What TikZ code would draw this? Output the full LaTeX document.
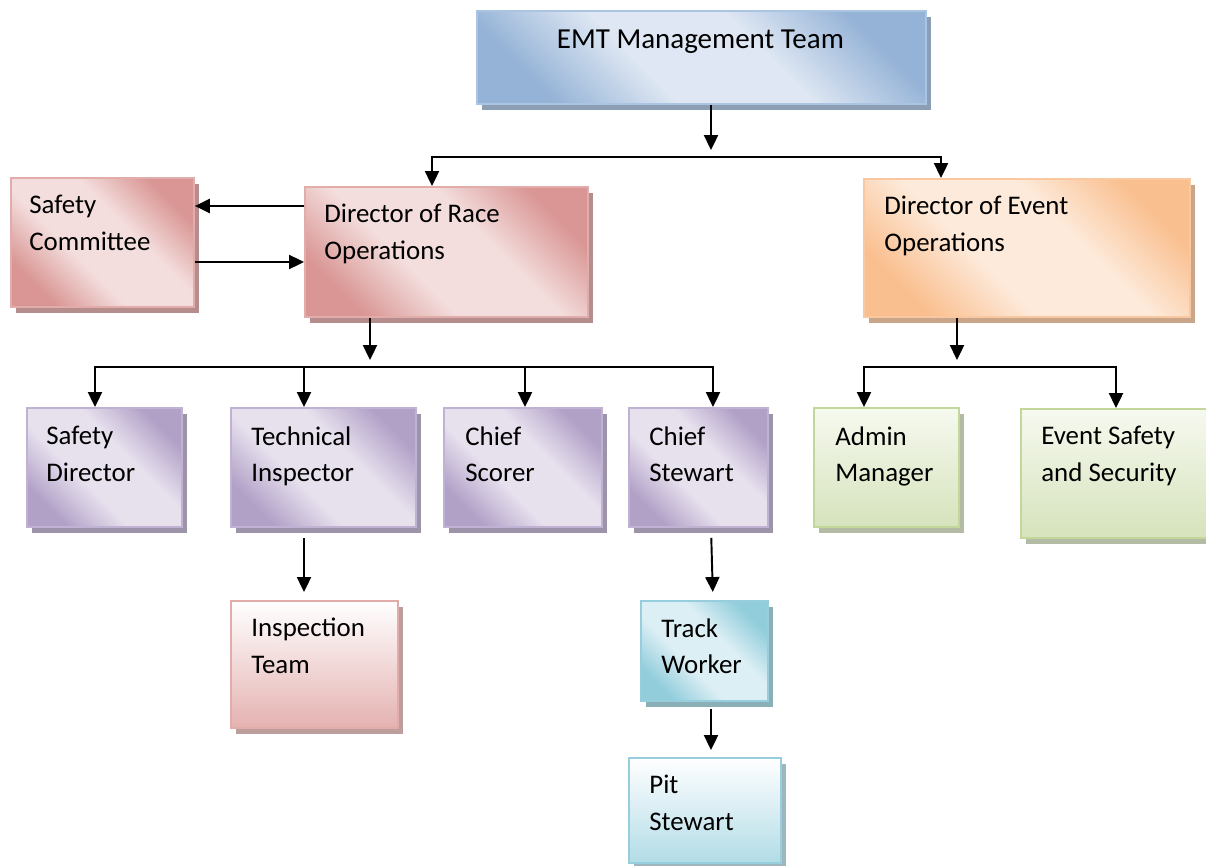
\documentclass[tikz,border=0pt]{standalone}
\usepackage{fontspec}
\setmainfont{Carlito}
\usetikzlibrary{arrows.meta,shadows}

\definecolor{bluedark}{RGB}{149,179,215}
\definecolor{bluelight}{RGB}{222,231,243}
\definecolor{blueline}{RGB}{170,196,226}
\definecolor{pinkdark}{RGB}{217,150,148}
\definecolor{pinklight}{RGB}{243,222,221}
\definecolor{pinkline}{RGB}{226,172,170}
\definecolor{pinktop}{RGB}{255,255,255}
\definecolor{pinkbottom}{RGB}{228,178,177}
\definecolor{orangedark}{RGB}{250,191,143}
\definecolor{orangelight}{RGB}{253,234,218}
\definecolor{orangeline}{RGB}{250,200,160}
\definecolor{purpdark}{RGB}{178,161,199}
\definecolor{purplight}{RGB}{231,225,238}
\definecolor{purpline}{RGB}{192,178,210}
\definecolor{greendark}{RGB}{214,227,188}
\definecolor{greenline}{RGB}{196,215,155}
\definecolor{greentop}{RGB}{246,249,239}
\definecolor{greenbottom}{RGB}{214,227,188}
\definecolor{cyandark}{RGB}{146,205,220}
\definecolor{cyanlight}{RGB}{220,239,244}
\definecolor{cyanline}{RGB}{150,206,221}
\definecolor{cyantop}{RGB}{255,255,255}
\definecolor{cyanbottom}{RGB}{178,220,231}

% dark corners with a wide light band across the middle
\newcommand\bandshading[1]{%
  \pgfdeclareverticalshading{#1band}{100bp}{color(0bp)=(#1dark); color(25bp)=(#1dark);
    color(41bp)=(#1light); color(59bp)=(#1light); color(75bp)=(#1dark); color(100bp)=(#1dark)}}
\bandshading{blue}
\bandshading{pink}
\bandshading{orange}
\bandshading{purp}
\bandshading{cyan}

\begin{document}
\begin{tikzpicture}[x=0.02cm, y=-0.02cm,
    every node/.style={font=\fontsize{15.3}{21}\selectfont},
    arr/.style={line width=1.1pt, -{Triangle[width=8pt,length=8.5pt]}},
    box/.style={draw=#1line, line width=1.1pt, anchor=north west, inner sep=0pt,
        shade, shading=#1band, shading angle=-45,
        drop shadow={shadow xshift=0.1cm, shadow yshift=-0.12cm, fill=#1dark!60!gray, opacity=1}},
    fadebox/.style={draw=#1line, line width=1.1pt, anchor=north west, inner sep=0pt,
        top color=#1top, bottom color=#1bottom,
        drop shadow={shadow xshift=0.1cm, shadow yshift=-0.12cm, fill=#1bottom!60!gray, opacity=1}},
    txt/.style={anchor=north west, align=left, inner sep=0pt, execute at begin node=\strut}]

\clip (0,0) rectangle (1206,865);

% top level
\node[box=blue, minimum width=8.98cm, minimum height=1.86cm] (emt) at (476,10) {};
\node[anchor=base, font=\fontsize{16.5}{21}\selectfont] (emt-t) at ([shift={(-1,39)}]emt.north) {EMT Management Team};

% directors
\node[box=pink, minimum width=3.66cm, minimum height=2.58cm] (safety) at (10,177) {};
\node[txt] (safety-t) at ([shift={(19,18)}]safety.north west) {Safety\\Committee};
\node[box=pink, minimum width=5.66cm, minimum height=2.6cm] (race) at (304,186) {};
\node[txt] (race-t) at ([shift={(20,18)}]race.north west) {Director of Race\\Operations};
\node[box=orange, minimum width=6.52cm, minimum height=2.76cm] (event) at (863,178) {};
\node[txt] (event-t) at ([shift={(21,18)}]event.north west) {Director of Event\\Operations};

% race operations staff
\node[box=purp, minimum width=3.1cm, minimum height=2.38cm] (sdir) at (26,407) {};
\node[txt] (sdir-t) at ([shift={(20,19)}]sdir.north west) {Safety\\Director};
\node[box=purp, minimum width=3.7cm, minimum height=2.38cm] (tech) at (230,407) {};
\node[txt] (tech-t) at ([shift={(21,19)}]tech.north west) {Technical\\Inspector};
\node[box=purp, minimum width=3.16cm, minimum height=2.38cm] (scorer) at (443,407) {};
\node[txt] (scorer-t) at ([shift={(22,19)}]scorer.north west) {Chief\\Scorer};
\node[box=purp, minimum width=2.78cm, minimum height=2.38cm] (stewart) at (628,407) {};
\node[txt] (stewart-t) at ([shift={(21,19)}]stewart.north west) {Chief\\Stewart};

% event operations staff
\node[fadebox=green, minimum width=2.9cm, minimum height=2.38cm] (admin) at (813,407) {};
\node[txt] (admin-t) at ([shift={(22,19)}]admin.north west) {Admin\\Manager};
\node[fadebox=green, minimum width=3.9cm, minimum height=2.58cm] (esafety) at (1020,408) {};
\node[txt] (esafety-t) at ([shift={(21,18)}]esafety.north west) {Event Safety\\and Security};

% lower levels
\node[fadebox=pink, minimum width=3.34cm, minimum height=2.54cm] (insp) at (230,600) {};
\node[txt] (insp-t) at ([shift={(21,18)}]insp.north west) {Inspection\\Team};
\node[box=cyan, minimum width=2.54cm, minimum height=2.0cm] (track) at (640,600) {};
\node[txt] (track-t) at ([shift={(21,18)}]track.north west) {Track\\Worker};
\node[fadebox=cyan, minimum width=3.04cm, minimum height=2.1cm] (pit) at (628,757) {};
\node[txt] (pit-t) at ([shift={(21,18)}]pit.north west) {Pit\\Stewart};

% connectors
\coordinate (top-bus) at (711,157);
\coordinate (race-bus) at (370,367);
\coordinate (event-bus) at (957,367);

\draw[arr, shorten >=0.14cm] (emt.south -| top-bus) -- (top-bus);
\draw[arr] (top-bus) -| (race.north -| 432,0);
\draw[arr] (top-bus) -| (event.north -| 941,0);

\draw[arr] (race.west |- 0,206) -- (safety.east |- 0,206);
\draw[arr] (safety.east |- 0,262) -- (race.west |- 0,262);

\draw[arr, shorten >=0.14cm] (race.south -| race-bus) -- (race-bus);
\foreach \n/\x in {sdir/95, tech/304, scorer/525, stewart/713}
    \draw[arr] (race-bus) -| (\n.north -| \x,0);

\draw[arr, shorten >=0.14cm] (event.south -| event-bus) -- (event-bus);
\foreach \n/\x in {admin/864, esafety/1116}
    \draw[arr] (event-bus) -| (\n.north -| \x,0);

\draw[arr, shorten <=0.2cm, shorten >=0.16cm] (tech.south -| 304,0) -- (insp.north -| 304,0);
\draw[arr, shorten <=0.2cm, shorten >=0.16cm] (stewart.south -| 711,0) -- (track.north -| 713,0);
\draw[arr, shorten <=0.14cm, shorten >=0.14cm] (track.south -| 711,0) -- (pit.north -| 711,0);
\end{tikzpicture}
\end{document}
